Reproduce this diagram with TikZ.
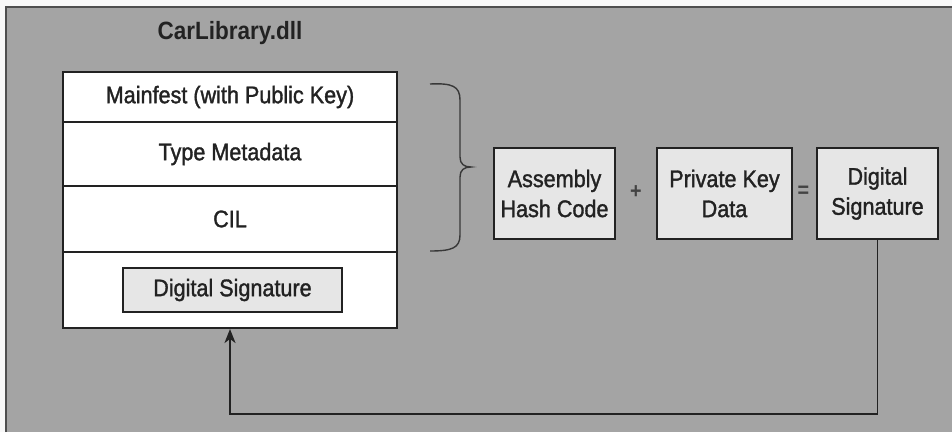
\documentclass[tikz,border=0pt]{standalone}
\usepackage{fontspec}
\setmainfont{Liberation Sans}[FakeStretch=0.9,FakeBold=1.4]
\newfontfamily\titlefont{Liberation Sans}[FakeStretch=0.9]
\usetikzlibrary{arrows.meta}
\definecolor{bg}{HTML}{A4A4A4}
\definecolor{boxfill}{HTML}{E6E6E6}
\definecolor{ink}{HTML}{222222}
\tikzset{
  row/.style={draw=ink, line width=2pt, fill=white, minimum width=334pt, inner sep=0pt, anchor=north, font=\fontsize{24}{27}\selectfont, text=ink},
  graybox/.style={draw=ink, line width=1.8pt, fill=boxfill, inner sep=0pt, align=center, font=\fontsize{24}{30}\selectfont, text=ink},
  op/.style={font=\titlefont\bfseries\fontsize{22}{24}\selectfont, text=ink!85, inner sep=0pt},
  conn/.style={draw=ink, line width=1.8pt},
}
\begin{document}
\begin{tikzpicture}[x=1pt,y=-1pt]
\useasboundingbox (0,0) rectangle (952,432);
\fill[white!92!bg] (0,0) rectangle (952,432);
\fill[bg] (6,7) rectangle (952,432);
\draw[ink!80, line width=2pt] (6,432) -- (6,7) -- (952,7);
% title
\node[font=\titlefont\bfseries\fontsize{25}{28}\selectfont, text=ink] (title) at (230,33) {CarLibrary.dll};
% stack
\node[row, minimum height=50pt] (r1) at (230,71) {Mainfest (with Public Key)};
\node[row, minimum height=64pt] (r2) at (230,121) {Type Metadata};
\node[row, minimum height=66pt] (r3) at (230,185) {CIL};
\node[row, minimum height=76pt] (r4) at (230,251) {};
\node[graybox, minimum width=219pt, minimum height=44pt] (ids) at (232.5,290) {Digital Signature};
% brace
\draw[ink!90, line width=1.4pt] (430,84) .. controls (452,83) and (460,86) .. (460,100)
  -- (460,157) .. controls (460,164) and (464,167) .. (471,167)
  .. controls (464,167) and (460,170) .. (460,177)
  -- (460,235) .. controls (460,248) and (452,251) .. (430,251);
% right boxes
\node[graybox, minimum width=121pt, minimum height=91pt] (hash) at (554.5,193.5) {Assembly\\Hash Code};
\node[graybox, minimum width=135pt, minimum height=91pt] (pkey) at (724.5,193.5) {Private Key\\Data};
\node[graybox, minimum width=121pt, minimum height=91pt] (ds) at (877.5,193.5) {Digital\\Signature};
\node[op] (plus) at (636,192) {+};
\node[op] (eq) at (803.5,192) {=};
% connector
\draw[conn, -{Stealth[length=14pt,width=11pt,inset=4pt]}] (ds.south) -- (ds.south |- 0,414) -| (r4.south);
\end{tikzpicture}
\end{document}
